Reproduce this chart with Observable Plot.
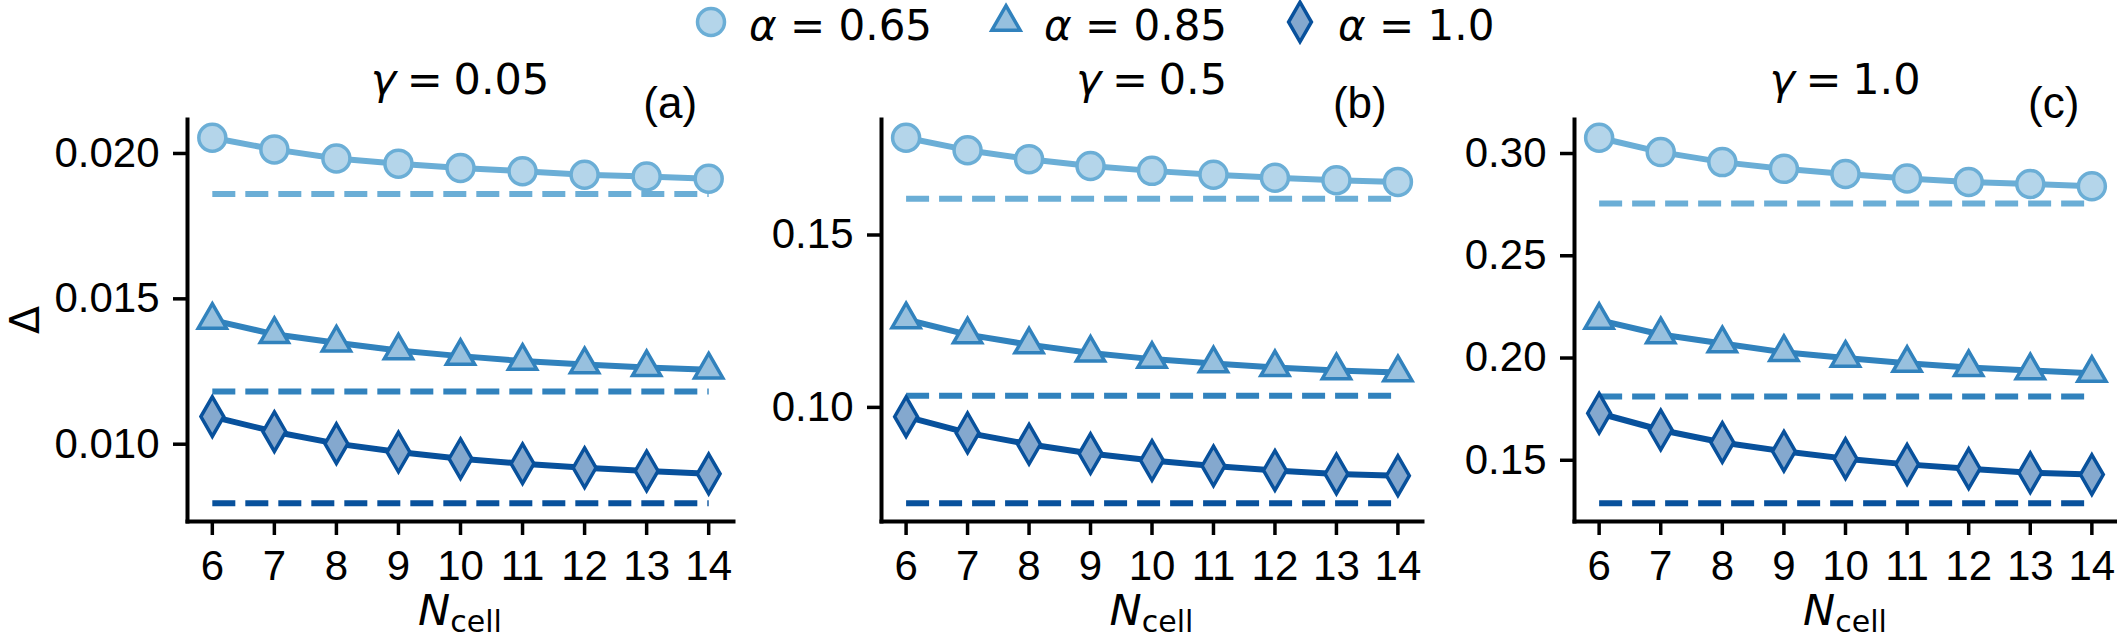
<!DOCTYPE html>
<html><head><meta charset="utf-8">
<script src="https://cdn.jsdelivr.net/npm/d3@7"></script>
<script src="https://cdn.jsdelivr.net/npm/@observablehq/plot@0.6"></script>
<style>
html,body{margin:0;padding:0;background:#fff;}
#chart{position:relative;width:2117px;height:639px;overflow:hidden;font-family:"Liberation Sans",Arial,sans-serif;}
#chart svg{position:absolute;left:0;top:0;}
</style></head><body><div id="chart"></div>
<script>
// ---- data ----
const N = [6, 7, 8, 9, 10, 11, 12, 13, 14];
const alphas = ["0.65", "0.85", "1.0"];
const gammas = ["0.05", "0.5", "1.0"];
const panelTags = ["(a)", "(b)", "(c)"];

const g005_a065 = [0.02054, 0.02014, 0.01983, 0.01965, 0.01950, 0.01939, 0.01927, 0.01921, 0.01913];
const g005_a085 = [0.01427, 0.01378, 0.01349, 0.01322, 0.01303, 0.01286, 0.01274, 0.01264, 0.01256];
const g005_a100 = [0.01095, 0.01043, 0.01002, 0.00973, 0.00950, 0.00933, 0.00919, 0.00908, 0.00898];
const g005_limit = [0.01861, 0.01181, 0.00797];

const g05_a065 = [0.1782, 0.1746, 0.1720, 0.1700, 0.1686, 0.1675, 0.1666, 0.1659, 0.1654];
const g05_a085 = [0.1255, 0.1211, 0.1182, 0.1158, 0.1140, 0.1127, 0.1116, 0.1107, 0.1101];
const g05_a100 = [0.0973, 0.0926, 0.0893, 0.0866, 0.0846, 0.0830, 0.0817, 0.0807, 0.0802];
const g05_limit = [0.1605, 0.1034, 0.0722];

const g10_a065 = [0.3077, 0.3007, 0.2958, 0.2925, 0.2900, 0.2878, 0.2861, 0.2851, 0.2840];
const g10_a085 = [0.2185, 0.2115, 0.2071, 0.2028, 0.2000, 0.1975, 0.1954, 0.1939, 0.1926];
const g10_a100 = [0.1730, 0.1648, 0.1587, 0.1544, 0.1508, 0.1480, 0.1459, 0.1439, 0.1430];
const g10_limit = [0.2755, 0.1812, 0.1290];

const yTicks005 = [0.010, 0.015, 0.020];
const yTicks05 = [0.10, 0.15];
const yTicks10 = [0.15, 0.20, 0.25, 0.30];
const yFormats = [".3f", ".2f", ".2f"];

// ---- style ----
const lineColors = ["#6baed6", "#3182bd", "#08519c"];
const fillColors = ["#b4d5ea", "#97c0de", "#84a8ce"];
const symbolNames = ["circle", "triangle", "diamond"];
const symbolR = [13.5, 10.5, 12];
const d3Symbols = [d3.symbolCircle, d3.symbolTriangle, d3.symbolDiamond];

const W = 2117, H = 639, TOP = 119, BOTTOM = 521;
const frames = [{left: 187, right: 733}, {left: 881, right: 1422}, {left: 1574, right: 2116}];
const FONT = "Liberation Sans, Arial, sans-serif";
const MATH = "DejaVu Sans, sans-serif";

const panels = [
  {series: [g005_a065, g005_a085, g005_a100], limits: g005_limit, yTicks: yTicks005},
  {series: [g05_a065, g05_a085, g05_a100], limits: g05_limit, yTicks: yTicks05},
  {series: [g10_a065, g10_a085, g10_a100], limits: g10_limit, yTicks: yTicks10}
];

function pad(ext) { const d = (ext[1] - ext[0]) * 0.05; return [ext[0] - d, ext[1] + d]; }

const chart = document.getElementById("chart");

panels.forEach((p, i) => {
  const rows = [];
  p.series.forEach((vals, k) => vals.forEach((v, j) => rows.push({n: N[j], v, a: k})));
  const lim = p.limits.flatMap((v, k) => [{n: N[0], v, a: k}, {n: N[N.length - 1], v, a: k}]);
  const ydom = pad(d3.extent(rows.map(d => d.v).concat(p.limits)));
  const xdom = pad(d3.extent(N));
  const f = frames[i];
  const ks = [0, 1, 2];
  const svg = Plot.plot({
    width: W, height: H,
    marginLeft: f.left, marginRight: W - f.right, marginTop: TOP, marginBottom: H - BOTTOM,
    style: {fontFamily: FONT, fontSize: "42px", color: "#000", background: "transparent", overflow: "visible"},
    x: {domain: xdom},
    y: {domain: ydom},
    marks: [
      ...ks.map(k => Plot.line(lim.filter(d => d.a === k), {x: "n", y: "v", stroke: lineColors[k], strokeWidth: 6, strokeDasharray: "23,10", strokeLinecap: "butt"})),
      ...ks.map(k => Plot.line(rows.filter(d => d.a === k), {x: "n", y: "v", stroke: lineColors[k], strokeWidth: 6})),
      ...ks.map(k => Plot.dot(rows.filter(d => d.a === k), {x: "n", y: "v", symbol: symbolNames[k], r: symbolR[k], fill: fillColors[k], stroke: lineColors[k], strokeWidth: 3.5})),
      Plot.frame({anchor: "left", strokeWidth: 4, stroke: "#000"}),
      Plot.frame({anchor: "bottom", strokeWidth: 4, stroke: "#000"}),
      Plot.axisX({ticks: N, tickSize: 14, tickPadding: 15, strokeWidth: 3.5, label: null, fontSize: 42}),
      Plot.axisY({ticks: p.yTicks, tickFormat: d3.format(yFormats[i]), tickSize: 14, tickPadding: 14, strokeWidth: 3.5, label: null, fontSize: 42})
    ]
  });
  chart.appendChild(svg);
});

// ---- overlay texts & legend ----
const ov = d3.select(chart).append("svg")
  .attr("width", W).attr("height", H)
  .attr("font-family", FONT).attr("fill", "#000");

function mathText(sel, sym, rest) {
  sel.append("tspan").attr("font-style", "italic").text(sym);
  sel.append("tspan").text(" = " + rest);
}

// legend
const legX = [711, 1006, 1300], legTextX = [749, 1044, 1338], legY = 22;
alphas.forEach((a, k) => {
  ov.append("path")
    .attr("d", d3.symbol(d3Symbols[k], Math.PI * symbolR[k] * symbolR[k])())
    .attr("transform", `translate(${legX[k]},${legY})`)
    .attr("fill", fillColors[k]).attr("stroke", lineColors[k]).attr("stroke-width", 3.5);
  const t = ov.append("text").attr("x", legTextX[k]).attr("y", 40).attr("font-size", 42)
    .attr("font-family", MATH);
  mathText(t, "α", a);
});

frames.forEach((f, i) => {
  const cx = (f.left + f.right) / 2, w = f.right - f.left;
  const t = ov.append("text").attr("x", cx).attr("y", 94).attr("text-anchor", "middle")
    .attr("font-size", 43).attr("font-family", MATH).attr("word-spacing", -3);
  mathText(t, "γ", gammas[i]);
  ov.append("text").attr("x", f.left + 0.885 * w).attr("y", 118).attr("text-anchor", "middle")
    .attr("font-size", 44).text(panelTags[i]);
  const xl = ov.append("text").attr("x", cx).attr("y", 625).attr("text-anchor", "middle")
    .attr("font-size", 43).attr("font-family", MATH);
  xl.append("tspan").attr("font-style", "italic").text("N");
  xl.append("tspan").attr("font-size", 30).attr("dy", 7).text("cell");
});

ov.append("text").attr("transform", `translate(39,${(TOP + BOTTOM) / 2}) rotate(-90)`)
  .attr("text-anchor", "middle").attr("font-size", 41).attr("font-family", MATH).text("Δ");
</script></body></html>
